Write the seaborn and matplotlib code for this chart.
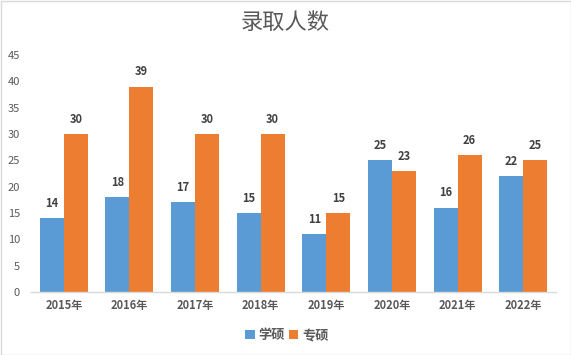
import matplotlib
matplotlib.use("Agg")
import matplotlib.pyplot as plt
import seaborn as sns
import pandas as pd

years = ["2015年", "2016年", "2017年", "2018年", "2019年", "2020年", "2021年", "2022年"]
xueshuo = [14, 18, 17, 15, 11, 25, 16, 22]
zhuanshuo = [30, 39, 30, 30, 15, 23, 26, 25]
series = ["学硕", "专硕"]
colors = ["#5B9BD5", "#ED7D31"]

df = pd.DataFrame({
    "year": years * 2,
    "value": xueshuo + zhuanshuo,
    "type": [series[0]] * len(years) + [series[1]] * len(years),
})

sns.set_style("white")
plt.rcParams["font.family"] = ["Noto Sans CJK SC", "DejaVu Sans"]

fig = plt.figure(figsize=(5.71, 3.55), dpi=100)
ax = fig.add_axes([31 / 571, 63 / 355, 525 / 571, 237 / 355])

sns.barplot(data=df, x="year", y="value", hue="type", palette=colors,
            width=0.73, saturation=1, linewidth=0, ax=ax, legend=True)

for cont in ax.containers:
    ax.bar_label(cont, padding=6, fontsize=8, fontweight="bold", color="#404040")

ax.set_ylim(0, 45)
ax.set_yticks(range(0, 46, 5))
ax.set_xlim(-0.5, len(years) - 0.5)
ax.set_xlabel("")
ax.set_ylabel("")
ax.tick_params(axis="both", length=0, labelsize=8, colors="#595959")
ax.tick_params(axis="y", pad=8)
ax.tick_params(axis="x", pad=5)
for lab in ax.get_xticklabels():
    lab.set_fontweight("bold")
for s in ["top", "right", "left"]:
    ax.spines[s].set_visible(False)
ax.spines["bottom"].set_color("#D9D9D9")
ax.spines["bottom"].set_linewidth(1)

leg = ax.legend(loc="center", bbox_to_anchor=(287 / 571, 20 / 355),
                bbox_transform=fig.transFigure, ncol=2, frameon=False,
                fontsize=9.5, handlelength=0.7, handleheight=0.7, handletextpad=0.3,
                columnspacing=0.3, labelcolor="#595959")
for t in leg.get_texts():
    t.set_fontweight("bold")

fig.text(0.5, 1 - 22 / 355, "录取人数", ha="center", va="center", fontsize=16,
         fontweight="medium", color="#595959")

fig.patches.append(plt.Rectangle((0.5 / 571, 0.5 / 355), 570 / 571, 354 / 355,
                                 transform=fig.transFigure, fill=False,
                                 edgecolor="#D9D9D9", linewidth=1))

fig.savefig("out.png", dpi=100)
